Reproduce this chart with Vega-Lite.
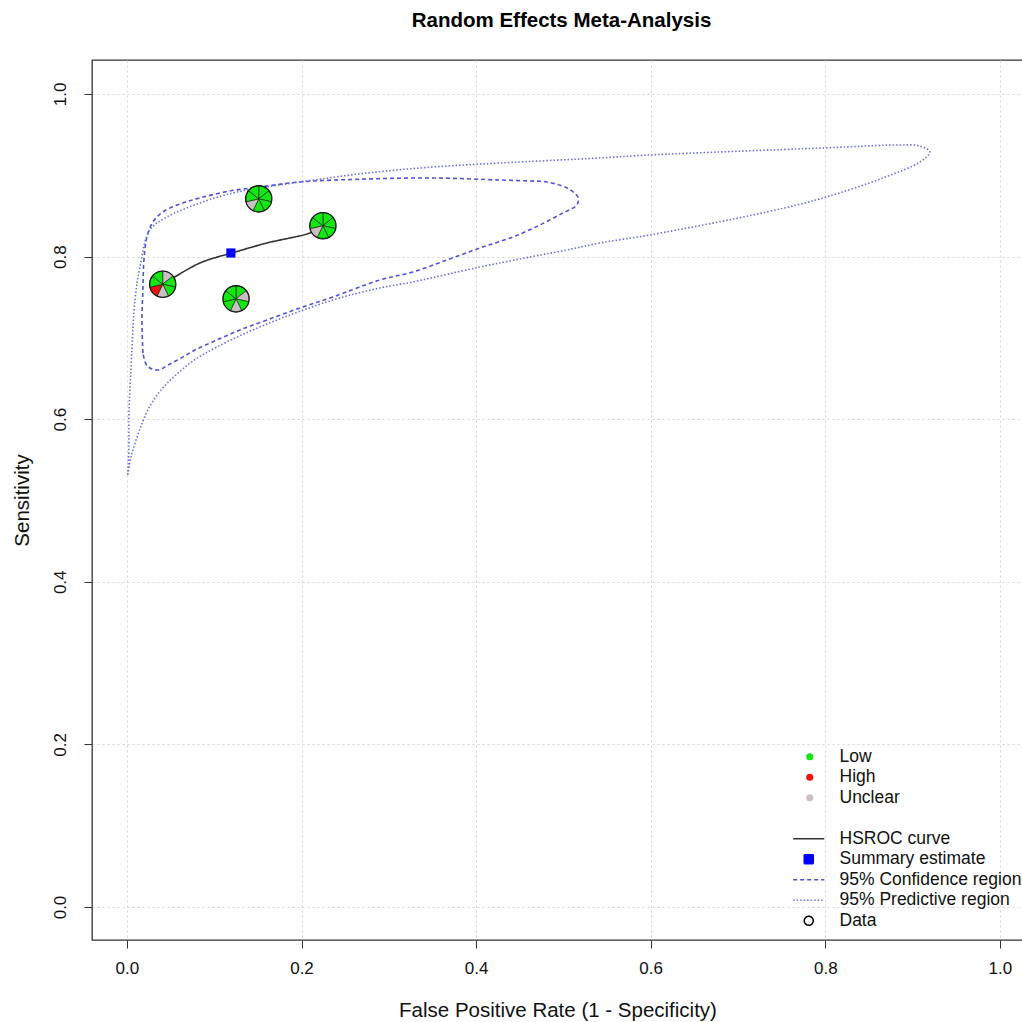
{
  "$schema": "https://vega.github.io/schema/vega-lite/v6.json",
  "width": 931,
  "height": 880,
  "autosize": {"type": "none"},
  "padding": {"left": 92, "top": 60, "right": 0, "bottom": 82},
  "background": "white",
  "config": {
    "font": "Liberation Sans",
    "view": {"stroke": "#333333", "strokeWidth": 1.3},
    "axis": {
      "labelFont": "Liberation Sans",
      "titleFont": "Liberation Sans",
      "labelFontSize": 17,
      "titleFontSize": 20.5,
      "titleFontWeight": "normal",
      "labelColor": "#111111",
      "titleColor": "#111111",
      "domain": false,
      "tickColor": "#333333",
      "tickSize": 8,
      "tickWidth": 1,
      "grid": true,
      "gridColor": "#d4d4d4",
      "gridDash": [2, 3],
      "gridWidth": 1
    },
    "legend": {"labelFont": "Liberation Sans"}
  },
  "title": {
    "text": "Random Effects Meta-Analysis",
    "fontSize": 20.5,
    "fontWeight": "bold",
    "font": "Liberation Sans",
    "color": "#000000",
    "anchor": "middle",
    "offset": 29,
    "dx": 4
  },
  "datasets": {
    "curves": [
      {"el": "HSROC curve", "i": 0, "fpr": 0.0401, "sens": 0.7651},
      {"el": "HSROC curve", "i": 1, "fpr": 0.0836, "sens": 0.7921},
      {"el": "HSROC curve", "i": 2, "fpr": 0.1203, "sens": 0.8044},
      {"el": "HSROC curve", "i": 3, "fpr": 0.1604, "sens": 0.8167},
      {"el": "HSROC curve", "i": 4, "fpr": 0.2096, "sens": 0.829},
      {"el": "HSROC curve", "i": 5, "fpr": 0.2234, "sens": 0.8364},

      {"el": "95% Confidence region", "i": 0, "fpr": 0.0183, "sens": 0.6814},
      {"el": "95% Confidence region", "i": 1, "fpr": 0.0172, "sens": 0.722},
      {"el": "95% Confidence region", "i": 2, "fpr": 0.0183, "sens": 0.7589},
      {"el": "95% Confidence region", "i": 3, "fpr": 0.0195, "sens": 0.7958},
      {"el": "95% Confidence region", "i": 4, "fpr": 0.0229, "sens": 0.8241},
      {"el": "95% Confidence region", "i": 5, "fpr": 0.0298, "sens": 0.8426},
      {"el": "95% Confidence region", "i": 6, "fpr": 0.0412, "sens": 0.8549},
      {"el": "95% Confidence region", "i": 7, "fpr": 0.0607, "sens": 0.8647},
      {"el": "95% Confidence region", "i": 8, "fpr": 0.0836, "sens": 0.8721},
      {"el": "95% Confidence region", "i": 9, "fpr": 0.118, "sens": 0.8807},
      {"el": "95% Confidence region", "i": 10, "fpr": 0.1523, "sens": 0.8856},
      {"el": "95% Confidence region", "i": 11, "fpr": 0.1982, "sens": 0.8918},
      {"el": "95% Confidence region", "i": 12, "fpr": 0.2749, "sens": 0.8954},
      {"el": "95% Confidence region", "i": 13, "fpr": 0.3505, "sens": 0.8967},
      {"el": "95% Confidence region", "i": 14, "fpr": 0.4273, "sens": 0.8942},
      {"el": "95% Confidence region", "i": 15, "fpr": 0.4616, "sens": 0.893},
      {"el": "95% Confidence region", "i": 16, "fpr": 0.4811, "sens": 0.8918},
      {"el": "95% Confidence region", "i": 17, "fpr": 0.504, "sens": 0.8844},
      {"el": "95% Confidence region", "i": 18, "fpr": 0.5166, "sens": 0.8733},
      {"el": "95% Confidence region", "i": 19, "fpr": 0.5155, "sens": 0.8635},
      {"el": "95% Confidence region", "i": 20, "fpr": 0.4994, "sens": 0.8536},
      {"el": "95% Confidence region", "i": 21, "fpr": 0.4731, "sens": 0.8389},
      {"el": "95% Confidence region", "i": 22, "fpr": 0.4422, "sens": 0.8241},
      {"el": "95% Confidence region", "i": 23, "fpr": 0.4044, "sens": 0.8106},
      {"el": "95% Confidence region", "i": 24, "fpr": 0.3666, "sens": 0.7958},
      {"el": "95% Confidence region", "i": 25, "fpr": 0.3276, "sens": 0.7811},
      {"el": "95% Confidence region", "i": 26, "fpr": 0.2898, "sens": 0.7712},
      {"el": "95% Confidence region", "i": 27, "fpr": 0.236, "sens": 0.7503},
      {"el": "95% Confidence region", "i": 28, "fpr": 0.1982, "sens": 0.7368},
      {"el": "95% Confidence region", "i": 29, "fpr": 0.1604, "sens": 0.722},
      {"el": "95% Confidence region", "i": 30, "fpr": 0.1294, "sens": 0.7097},
      {"el": "95% Confidence region", "i": 31, "fpr": 0.1031, "sens": 0.6974},
      {"el": "95% Confidence region", "i": 32, "fpr": 0.0779, "sens": 0.6851},
      {"el": "95% Confidence region", "i": 33, "fpr": 0.0641, "sens": 0.6765},
      {"el": "95% Confidence region", "i": 34, "fpr": 0.0493, "sens": 0.6679},
      {"el": "95% Confidence region", "i": 35, "fpr": 0.0355, "sens": 0.6605},
      {"el": "95% Confidence region", "i": 36, "fpr": 0.0263, "sens": 0.663},
      {"el": "95% Confidence region", "i": 37, "fpr": 0.0218, "sens": 0.6679},
      {"el": "95% Confidence region", "i": 38, "fpr": 0.0183, "sens": 0.6814},

      {"el": "95% Predictive region", "i": 0, "fpr": 0.0011, "sens": 0.5314},
      {"el": "95% Predictive region", "i": 1, "fpr": 0.0023, "sens": 0.5683},
      {"el": "95% Predictive region", "i": 2, "fpr": 0.0023, "sens": 0.6027},
      {"el": "95% Predictive region", "i": 3, "fpr": 0.0057, "sens": 0.6851},
      {"el": "95% Predictive region", "i": 4, "fpr": 0.0092, "sens": 0.7466},
      {"el": "95% Predictive region", "i": 5, "fpr": 0.0149, "sens": 0.7872},
      {"el": "95% Predictive region", "i": 6, "fpr": 0.0263, "sens": 0.8327},
      {"el": "95% Predictive region", "i": 7, "fpr": 0.0458, "sens": 0.8487},
      {"el": "95% Predictive region", "i": 8, "fpr": 0.0836, "sens": 0.8659},
      {"el": "95% Predictive region", "i": 9, "fpr": 0.1214, "sens": 0.8782},
      {"el": "95% Predictive region", "i": 10, "fpr": 0.1523, "sens": 0.8844},
      {"el": "95% Predictive region", "i": 11, "fpr": 0.1982, "sens": 0.8918},
      {"el": "95% Predictive region", "i": 12, "fpr": 0.2749, "sens": 0.9028},
      {"el": "95% Predictive region", "i": 13, "fpr": 0.3505, "sens": 0.9102},
      {"el": "95% Predictive region", "i": 14, "fpr": 0.4273, "sens": 0.9151},
      {"el": "95% Predictive region", "i": 15, "fpr": 0.5418, "sens": 0.9213},
      {"el": "95% Predictive region", "i": 16, "fpr": 0.5991, "sens": 0.925},
      {"el": "95% Predictive region", "i": 17, "fpr": 0.7973, "sens": 0.9336},
      {"el": "95% Predictive region", "i": 18, "fpr": 0.8855, "sens": 0.9373},
      {"el": "95% Predictive region", "i": 19, "fpr": 0.9084, "sens": 0.936},
      {"el": "95% Predictive region", "i": 20, "fpr": 0.9198, "sens": 0.9287},
      {"el": "95% Predictive region", "i": 21, "fpr": 0.9084, "sens": 0.9164},
      {"el": "95% Predictive region", "i": 22, "fpr": 0.866, "sens": 0.8967},
      {"el": "95% Predictive region", "i": 23, "fpr": 0.7973, "sens": 0.8721},
      {"el": "95% Predictive region", "i": 24, "fpr": 0.7331, "sens": 0.8549},
      {"el": "95% Predictive region", "i": 25, "fpr": 0.5991, "sens": 0.8266},
      {"el": "95% Predictive region", "i": 26, "fpr": 0.5418, "sens": 0.8167},
      {"el": "95% Predictive region", "i": 27, "fpr": 0.504, "sens": 0.8081},
      {"el": "95% Predictive region", "i": 28, "fpr": 0.4616, "sens": 0.7995},
      {"el": "95% Predictive region", "i": 29, "fpr": 0.4044, "sens": 0.7872},
      {"el": "95% Predictive region", "i": 30, "fpr": 0.3276, "sens": 0.7688},
      {"el": "95% Predictive region", "i": 31, "fpr": 0.2898, "sens": 0.7614},
      {"el": "95% Predictive region", "i": 32, "fpr": 0.236, "sens": 0.7466},
      {"el": "95% Predictive region", "i": 33, "fpr": 0.1604, "sens": 0.7171},
      {"el": "95% Predictive region", "i": 34, "fpr": 0.1031, "sens": 0.6888},
      {"el": "95% Predictive region", "i": 35, "fpr": 0.0756, "sens": 0.6716},
      {"el": "95% Predictive region", "i": 36, "fpr": 0.0573, "sens": 0.6556},
      {"el": "95% Predictive region", "i": 37, "fpr": 0.0401, "sens": 0.6371},
      {"el": "95% Predictive region", "i": 38, "fpr": 0.0263, "sens": 0.6162},
      {"el": "95% Predictive region", "i": 39, "fpr": 0.0149, "sens": 0.5879},
      {"el": "95% Predictive region", "i": 40, "fpr": 0.0069, "sens": 0.5621},
      {"el": "95% Predictive region", "i": 41, "fpr": 0.0034, "sens": 0.5474},
      {"el": "95% Predictive region", "i": 42, "fpr": 0.0011, "sens": 0.5314}
    ],
    "summary": [
      {"el": "Summary estimate", "fpr": 0.1191, "sens": 0.8044}
    ],
    "studies": [
      {"study": "S1", "fpr": 0.041, "sens": 0.766},
      {"study": "S2", "fpr": 0.151, "sens": 0.871},
      {"study": "S3", "fpr": 0.2245, "sens": 0.838},
      {"study": "S4", "fpr": 0.125, "sens": 0.748}
    ],
    "pies": [
      {"study": "S1", "fpr": 0.041, "sens": 0.766, "a0": 0, "a1": 1, "risk": "Unclear"},
      {"study": "S1", "fpr": 0.041, "sens": 0.766, "a0": 1, "a1": 2, "risk": "Low"},
      {"study": "S1", "fpr": 0.041, "sens": 0.766, "a0": 2, "a1": 3, "risk": "Low"},
      {"study": "S1", "fpr": 0.041, "sens": 0.766, "a0": 3, "a1": 4, "risk": "Unclear"},
      {"study": "S1", "fpr": 0.041, "sens": 0.766, "a0": 4, "a1": 5, "risk": "High"},
      {"study": "S1", "fpr": 0.041, "sens": 0.766, "a0": 5, "a1": 6, "risk": "Low"},
      {"study": "S1", "fpr": 0.041, "sens": 0.766, "a0": 6, "a1": 7, "risk": "Low"},
      {"study": "S2", "fpr": 0.151, "sens": 0.871, "a0": 0, "a1": 1, "risk": "Low"},
      {"study": "S2", "fpr": 0.151, "sens": 0.871, "a0": 1, "a1": 2, "risk": "Low"},
      {"study": "S2", "fpr": 0.151, "sens": 0.871, "a0": 2, "a1": 3, "risk": "Low"},
      {"study": "S2", "fpr": 0.151, "sens": 0.871, "a0": 3, "a1": 4, "risk": "Low"},
      {"study": "S2", "fpr": 0.151, "sens": 0.871, "a0": 4, "a1": 5, "risk": "Unclear"},
      {"study": "S2", "fpr": 0.151, "sens": 0.871, "a0": 5, "a1": 6, "risk": "Low"},
      {"study": "S2", "fpr": 0.151, "sens": 0.871, "a0": 6, "a1": 7, "risk": "Low"},
      {"study": "S3", "fpr": 0.2245, "sens": 0.838, "a0": 0, "a1": 1, "risk": "Low"},
      {"study": "S3", "fpr": 0.2245, "sens": 0.838, "a0": 1, "a1": 2, "risk": "Low"},
      {"study": "S3", "fpr": 0.2245, "sens": 0.838, "a0": 2, "a1": 3, "risk": "Low"},
      {"study": "S3", "fpr": 0.2245, "sens": 0.838, "a0": 3, "a1": 4, "risk": "Low"},
      {"study": "S3", "fpr": 0.2245, "sens": 0.838, "a0": 4, "a1": 5, "risk": "Unclear"},
      {"study": "S3", "fpr": 0.2245, "sens": 0.838, "a0": 5, "a1": 6, "risk": "Low"},
      {"study": "S3", "fpr": 0.2245, "sens": 0.838, "a0": 6, "a1": 7, "risk": "Low"},
      {"study": "S4", "fpr": 0.125, "sens": 0.748, "a0": 0, "a1": 1, "risk": "Low"},
      {"study": "S4", "fpr": 0.125, "sens": 0.748, "a0": 1, "a1": 2, "risk": "Unclear"},
      {"study": "S4", "fpr": 0.125, "sens": 0.748, "a0": 2, "a1": 3, "risk": "Low"},
      {"study": "S4", "fpr": 0.125, "sens": 0.748, "a0": 3, "a1": 4, "risk": "Unclear"},
      {"study": "S4", "fpr": 0.125, "sens": 0.748, "a0": 4, "a1": 5, "risk": "Low"},
      {"study": "S4", "fpr": 0.125, "sens": 0.748, "a0": 5, "a1": 6, "risk": "Low"},
      {"study": "S4", "fpr": 0.125, "sens": 0.748, "a0": 6, "a1": 7, "risk": "Low"}
    ]
  },
  "encoding": {
    "x": {
      "field": "fpr",
      "type": "quantitative",
      "scale": {"domain": [-0.04, 1.0265], "nice": false, "zero": false},
      "axis": {
        "title": "False Positive Rate (1 - Specificity)",
        "values": [0, 0.2, 0.4, 0.6, 0.8, 1.0],
        "format": ".1f",
        "labelPadding": 12,
        "titlePadding": 24
      }
    },
    "y": {
      "field": "sens",
      "type": "quantitative",
      "scale": {"domain": [-0.0406, 1.0418], "nice": false, "zero": false},
      "axis": {
        "title": "Sensitivity",
        "values": [0, 0.2, 0.4, 0.6, 0.8, 1.0],
        "format": ".1f",
        "labelAngle": -90,
        "labelAlign": "center",
        "labelBaseline": "bottom",
        "labelPadding": 15,
        "titlePadding": 19
      }
    }
  },
  "layer": [
    {
      "data": {"name": "curves"},
      "mark": {"type": "line", "strokeWidth": 1.6, "interpolate": "catmull-rom"},
      "encoding": {
        "order": {"field": "i", "type": "quantitative"},
        "stroke": {
          "field": "el",
          "type": "nominal",
          "scale": {
            "domain": ["HSROC curve", "Summary estimate", "95% Confidence region", "95% Predictive region", "Data"],
            "range": ["#333333", "#0000ff", "#5252d4", "#6e6ee4", "#000000"]
          },
          "legend": {
            "title": null,
            "orient": "none",
            "legendX": 708,
            "legendY": 770,
            "padding": 0,
            "symbolSize": 144,
            "symbolStrokeWidth": 1.5,
            "labelFontSize": 17.5,
            "labelColor": "#111111",
            "labelOffset": 22,
            "labelLimit": 500,
            "rowPadding": 1.5
          }
        },
        "strokeDash": {
          "field": "el",
          "type": "nominal",
          "scale": {
            "domain": ["HSROC curve", "Summary estimate", "95% Confidence region", "95% Predictive region", "Data"],
            "range": [[1, 0], [1, 0], [4, 3], [1.5, 2], [1, 0]]
          },
          "legend": {
            "title": null,
            "orient": "none",
            "legendX": 708,
            "legendY": 770,
            "padding": 0,
            "symbolSize": 144,
            "symbolStrokeWidth": 1.5,
            "labelFontSize": 17.5,
            "labelColor": "#111111",
            "labelOffset": 22,
            "labelLimit": 500,
            "rowPadding": 1.5
          }
        }
      }
    },
    {
      "data": {"name": "summary"},
      "mark": {"type": "point", "filled": true, "size": 150, "opacity": 1, "strokeWidth": 0},
      "encoding": {
        "shape": {
          "field": "el",
          "type": "nominal",
          "scale": {
            "domain": ["HSROC curve", "Summary estimate", "95% Confidence region", "95% Predictive region", "Data"],
            "range": ["M-2.6,0H2.6", "M-0.75,-0.75H0.75V0.75H-0.75Z", "M-2.6,0H2.6", "M-2.6,0H2.6", "M0.75,0A0.75,0.75 0 1,1 -0.75,0A0.75,0.75 0 1,1 0.75,0Z"]
          },
          "legend": {
            "title": null,
            "orient": "none",
            "legendX": 708,
            "legendY": 770,
            "padding": 0,
            "symbolSize": 144,
            "symbolStrokeWidth": 1.5,
            "labelFontSize": 17.5,
            "labelColor": "#111111",
            "labelOffset": 22,
            "labelLimit": 500,
            "rowPadding": 1.5
          }
        },
        "fill": {
          "field": "el",
          "type": "nominal",
          "scale": {
            "domain": ["HSROC curve", "Summary estimate", "95% Confidence region", "95% Predictive region", "Data"],
            "range": ["transparent", "#0000ff", "transparent", "transparent", "transparent"]
          },
          "legend": {
            "title": null,
            "orient": "none",
            "legendX": 708,
            "legendY": 770,
            "padding": 0,
            "symbolSize": 144,
            "symbolStrokeWidth": 1.5,
            "labelFontSize": 17.5,
            "labelColor": "#111111",
            "labelOffset": 22,
            "labelLimit": 500,
            "rowPadding": 1.5
          }
        }
      }
    },
    {
      "data": {"name": "pies"},
      "mark": {"type": "arc", "radius": 13, "stroke": "#111111", "strokeWidth": 0.6},
      "encoding": {
        "theta": {"field": "a0", "type": "quantitative", "scale": {"domain": [0, 7], "range": [0, 6.283185]}},
        "theta2": {"field": "a1"},
        "color": {
          "field": "risk",
          "type": "nominal",
          "scale": {"domain": ["Low", "High", "Unclear"], "range": ["#14e614", "#ee1111", "#c9c1c1"]},
          "legend": {
            "title": null,
            "orient": "none",
            "legendX": 709,
            "legendY": 688,
            "padding": 0,
            "symbolType": "circle",
            "symbolSize": 50,
            "symbolStrokeWidth": 0,
            "symbolStrokeColor": "transparent",
            "labelFontSize": 17.5,
            "labelColor": "#111111",
            "labelOffset": 21,
            "rowPadding": 1.5
          }
        }
      }
    },
    {
      "data": {"name": "studies"},
      "mark": {"type": "point", "shape": "circle", "filled": false, "size": 700, "stroke": "#111111", "strokeWidth": 1.1, "opacity": 1}
    }
  ]
}
